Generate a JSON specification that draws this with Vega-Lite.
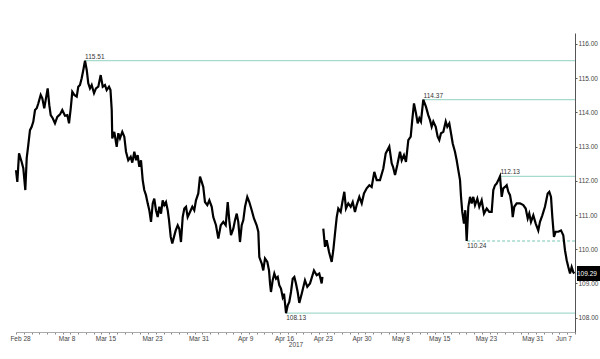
{
  "$schema": "https://vega.github.io/schema/vega-lite/v6.json",
  "width": 559,
  "height": 299,
  "autosize": {"type": "none"},
  "padding": {"left": 16, "top": 33, "right": 25, "bottom": 27},
  "background": "white",
  "config": {
    "view": {"stroke": null},
    "font": "Liberation Sans",
    "axis": {"grid": false, "labelFont": "Liberation Sans", "titleFont": "Liberation Sans"},
    "axisX": {"labelOverlap": false, "labelFlush": false}
  },
  "datasets": {
    "px": [
      {"d":0,"p":112.31},{"d":0.17,"p":111.97},{"d":0.39,"p":112.8},{"d":0.73,"p":112.55},{"d":0.94,"p":112.37},
      {"d":1.2,"p":111.73},{"d":1.38,"p":112.66},{"d":1.58,"p":113.04},{"d":1.8,"p":113.48},{"d":2.02,"p":113.58},
      {"d":2.23,"p":113.73},{"d":2.45,"p":114.07},{"d":2.67,"p":114.12},{"d":2.87,"p":114.26},{"d":3.18,"p":114.51},
      {"d":3.39,"p":114.41},{"d":3.64,"p":114.12},{"d":3.86,"p":114.41},{"d":4.08,"p":114.7},{"d":4.29,"p":114.21},
      {"d":4.47,"p":113.92},{"d":4.73,"p":113.83},{"d":5.02,"p":113.68},{"d":5.32,"p":113.87},{"d":5.67,"p":113.94},
      {"d":5.96,"p":114.07},{"d":6.31,"p":113.9},{"d":6.61,"p":113.92},{"d":6.83,"p":113.68},{"d":7.05,"p":114.12},
      {"d":7.25,"p":114.6},{"d":7.51,"p":114.51},{"d":7.82,"p":114.46},{"d":8.02,"p":114.75},{"d":8.24,"p":114.8},
      {"d":8.46,"p":115.0},{"d":8.67,"p":115.24},{"d":8.89,"p":115.51},{"d":9.11,"p":115.24},{"d":9.31,"p":114.85},
      {"d":9.53,"p":114.7},{"d":9.75,"p":114.8},{"d":10.05,"p":114.56},{"d":10.3,"p":114.7},{"d":10.6,"p":114.75},
      {"d":10.91,"p":115.09},{"d":11.17,"p":114.75},{"d":11.46,"p":114.8},{"d":11.68,"p":114.65},{"d":11.98,"p":114.75},
      {"d":12.17,"p":114.65},{"d":12.33,"p":114.07},{"d":12.4,"p":113.24},{"d":12.66,"p":113.43},{"d":12.97,"p":112.99},
      {"d":13.18,"p":113.39},{"d":13.39,"p":113.24},{"d":13.69,"p":113.43},{"d":13.95,"p":113.29},{"d":14.17,"p":112.85},
      {"d":14.46,"p":112.6},{"d":14.77,"p":112.7},{"d":14.98,"p":112.53},{"d":15.24,"p":112.85},{"d":15.46,"p":112.6},
      {"d":15.67,"p":112.75},{"d":15.88,"p":112.41},{"d":16.1,"p":112.6},{"d":16.32,"p":112.02},{"d":16.52,"p":111.73},
      {"d":16.74,"p":111.58},{"d":16.96,"p":111.34},{"d":17.17,"p":111.14},{"d":17.39,"p":110.8},{"d":17.61,"p":111.34},
      {"d":17.81,"p":111.48},{"d":18.03,"p":111.14},{"d":18.25,"p":110.94},{"d":18.46,"p":111.24},{"d":18.68,"p":111.04},
      {"d":18.89,"p":111.43},{"d":19.1,"p":111.29},{"d":19.32,"p":111.38},{"d":19.54,"p":111.14},{"d":19.71,"p":110.85},
      {"d":19.93,"p":110.36},{"d":20.13,"p":110.17},{"d":20.35,"p":110.36},{"d":20.57,"p":110.55},{"d":20.83,"p":110.7},
      {"d":21.03,"p":110.6},{"d":21.25,"p":110.21},{"d":21.47,"p":110.94},{"d":21.68,"p":111.19},{"d":21.9,"p":111.24},
      {"d":22.11,"p":110.94},{"d":22.41,"p":111.09},{"d":22.71,"p":111.24},{"d":22.96,"p":111.14},{"d":23.18,"p":111.43},
      {"d":23.48,"p":111.63},{"d":23.7,"p":112.12},{"d":23.92,"p":111.97},{"d":24.12,"p":111.82},{"d":24.34,"p":111.38},
      {"d":24.64,"p":111.29},{"d":24.9,"p":111.43},{"d":25.21,"p":111.24},{"d":25.41,"p":110.94},{"d":25.76,"p":110.7},
      {"d":26.06,"p":110.31},{"d":26.37,"p":110.7},{"d":26.7,"p":110.8},{"d":27.01,"p":110.7},{"d":27.27,"p":111.38},
      {"d":27.47,"p":110.85},{"d":27.69,"p":110.41},{"d":27.99,"p":110.6},{"d":28.21,"p":110.85},{"d":28.43,"p":111.04},
      {"d":28.63,"p":110.8},{"d":28.85,"p":110.21},{"d":29.07,"p":110.7},{"d":29.28,"p":110.85},{"d":29.5,"p":111.24},
      {"d":29.79,"p":111.53},{"d":30.05,"p":111.38},{"d":30.36,"p":111.14},{"d":30.65,"p":110.9},{"d":31.0,"p":110.7},
      {"d":31.21,"p":110.51},{"d":31.34,"p":109.77},{"d":31.65,"p":109.58},{"d":31.85,"p":109.38},{"d":32.07,"p":109.73},
      {"d":32.37,"p":109.63},{"d":32.59,"p":109.38},{"d":32.72,"p":109.0},{"d":32.84,"p":108.75},{"d":33.06,"p":109.09},
      {"d":33.27,"p":109.29},{"d":33.49,"p":109.14},{"d":33.71,"p":109.19},{"d":33.91,"p":108.95},{"d":34.13,"p":108.85},
      {"d":34.35,"p":108.6},{"d":34.52,"p":108.7},{"d":34.78,"p":108.13},{"d":35.0,"p":108.36},{"d":35.2,"p":108.46},
      {"d":35.42,"p":108.75},{"d":35.64,"p":109.14},{"d":35.85,"p":109.19},{"d":36.06,"p":109.0},{"d":36.28,"p":108.75},
      {"d":36.49,"p":108.43},{"d":36.8,"p":108.7},{"d":37.22,"p":109.09},{"d":37.52,"p":108.9},{"d":37.87,"p":109.0},
      {"d":38.38,"p":109.38},{"d":38.73,"p":109.24},{"d":39.06,"p":109.29},{"d":39.37,"p":109.0},{"d":39.47,"p":109.19},
      {"d":39.52,"p":null},
      {"d":39.58,"p":110.6},{"d":39.8,"p":110.07},{"d":40.02,"p":110.26},{"d":40.32,"p":109.92},{"d":40.66,"p":109.63},
      {"d":40.87,"p":109.97},{"d":41.09,"p":110.46},{"d":41.31,"p":110.94},{"d":41.51,"p":111.19},{"d":41.82,"p":111.09},
      {"d":42.08,"p":111.43},{"d":42.29,"p":111.68},{"d":42.5,"p":111.19},{"d":42.8,"p":111.34},{"d":43.11,"p":111.24},
      {"d":43.37,"p":111.38},{"d":43.66,"p":111.09},{"d":43.88,"p":111.29},{"d":44.22,"p":111.53},{"d":44.53,"p":111.34},
      {"d":44.82,"p":111.63},{"d":45.17,"p":111.78},{"d":45.51,"p":111.87},{"d":45.81,"p":111.82},{"d":46.15,"p":112.26},
      {"d":46.46,"p":112.02},{"d":46.88,"p":112.02},{"d":47.31,"p":112.36},{"d":47.62,"p":112.8},{"d":48.08,"p":113.0},
      {"d":48.39,"p":112.51},{"d":48.56,"p":112.41},{"d":48.82,"p":112.17},{"d":49.11,"p":112.46},{"d":49.46,"p":112.85},
      {"d":49.68,"p":112.6},{"d":49.97,"p":112.75},{"d":50.23,"p":112.55},{"d":50.53,"p":113.19},{"d":50.84,"p":113.29},
      {"d":51.04,"p":113.78},{"d":51.26,"p":114.26},{"d":51.52,"p":113.97},{"d":51.74,"p":113.68},{"d":51.95,"p":113.83},
      {"d":52.16,"p":113.73},{"d":52.46,"p":114.37},{"d":52.81,"p":114.16},{"d":53.1,"p":113.92},{"d":53.32,"p":113.78},
      {"d":53.54,"p":113.58},{"d":53.75,"p":113.73},{"d":54.06,"p":113.58},{"d":54.31,"p":113.29},{"d":54.52,"p":113.19},
      {"d":54.74,"p":113.39},{"d":55.04,"p":113.43},{"d":55.35,"p":113.73},{"d":55.55,"p":113.58},{"d":55.81,"p":113.68},
      {"d":56.03,"p":113.39},{"d":56.25,"p":113.09},{"d":56.54,"p":112.85},{"d":56.76,"p":112.6},{"d":56.97,"p":112.31},
      {"d":57.19,"p":112.02},{"d":57.32,"p":111.53},{"d":57.48,"p":111.09},{"d":57.7,"p":110.75},{"d":57.87,"p":111.14},
      {"d":58.05,"p":110.24},{"d":58.26,"p":111.24},{"d":58.48,"p":111.53},{"d":58.69,"p":111.34},{"d":58.9,"p":111.53},
      {"d":59.12,"p":111.29},{"d":59.42,"p":111.48},{"d":59.67,"p":111.24},{"d":59.98,"p":111.43},{"d":60.28,"p":111.04},
      {"d":60.63,"p":111.19},{"d":60.96,"p":111.09},{"d":61.27,"p":111.09},{"d":61.48,"p":111.73},{"d":61.7,"p":111.87},
      {"d":61.91,"p":111.92},{"d":62.12,"p":112.02},{"d":62.34,"p":112.13},{"d":62.56,"p":111.53},{"d":62.76,"p":111.78},
      {"d":62.98,"p":111.82},{"d":63.2,"p":111.87},{"d":63.41,"p":111.68},{"d":63.63,"p":111.58},{"d":63.85,"p":111.29},
      {"d":63.98,"p":110.94},{"d":64.18,"p":111.24},{"d":64.49,"p":111.34},{"d":64.92,"p":111.34},{"d":65.34,"p":111.29},
      {"d":65.65,"p":111.19},{"d":65.91,"p":110.9},{"d":66.11,"p":111.04},{"d":66.33,"p":110.8},{"d":66.63,"p":110.99},
      {"d":66.94,"p":110.75},{"d":67.27,"p":110.55},{"d":67.49,"p":110.8},{"d":67.79,"p":110.99},{"d":68.13,"p":111.24},
      {"d":68.48,"p":111.63},{"d":68.69,"p":111.68},{"d":68.91,"p":111.53},{"d":69.08,"p":110.94},{"d":69.29,"p":110.36},
      {"d":69.51,"p":110.51},{"d":69.85,"p":110.51},{"d":70.2,"p":110.55},{"d":70.49,"p":110.41},{"d":70.71,"p":109.97},
      {"d":70.93,"p":109.68},{"d":71.14,"p":109.48},{"d":71.36,"p":109.29},{"d":71.57,"p":109.48},{"d":71.78,"p":109.33},
      {"d":71.91,"p":109.29}
    ],
    "lv": [
      {"p":115.51,"d":8.9,"d2":72,"k":"solid","pos":"above"},
      {"p":114.37,"d":52.5,"d2":72,"k":"solid","pos":"above"},
      {"p":112.13,"d":62.4,"d2":72,"k":"solid","pos":"above"},
      {"p":110.24,"d":58.1,"d2":72,"k":"dashed","pos":"below"},
      {"p":108.13,"d":34.8,"d2":72,"k":"solid","pos":"below"}
    ],
    "last": [{"d":72,"p":109.29}]
  },
  "encoding": {
    "x": {"field": "d", "type": "quantitative", "scale": {"domain": [0, 72], "nice": false, "zero": false},
      "axis": {
        "values": [0,1,2,3,4,5,6,7,8,9,10,11,12,13,14,15,16,17,18,19,20,21,22,23,24,25,26,27,28,29,30,31,32,33,34,35,36,37,38,39,40,41,42,43,44,45,46,47,48,49,50,51,52,53,54,55,56,57,58,59,60,61,62,63,64,65,66,67,68,69,70,71,72],
        "labelExpr": "datum.value == 0 ? 'Feb 28' : datum.value == 6 ? 'Mar 8' : datum.value == 11 ? 'Mar 15' : datum.value == 17 ? 'Mar 23' : datum.value == 23 ? 'Mar 31' : datum.value == 29 ? 'Apr 9' : datum.value == 34 ? 'Apr 16' : datum.value == 39 ? 'Apr 23' : datum.value == 44 ? 'Apr 30' : datum.value == 49 ? 'May 8' : datum.value == 54 ? 'May 15' : datum.value == 60 ? 'May 23' : datum.value == 66 ? 'May 31' : datum.value == 70 ? 'Jun 7' : ''",
        "labelOverlap": false,
        "labelFlush": false,
        "labelFontSize": 6.5, "labelColor": "#444", "labelOffset": 4, "labelPadding": 1,
        "tickSize": 2, "tickColor": "#888", "domainColor": "#aaa",
        "title": "2017", "titleFontSize": 6.5, "titleFontWeight": "normal", "titleColor": "#444", "titlePadding": 0
      }
    },
    "y": {"field": "p", "type": "quantitative", "scale": {"domain": [107.58, 116.32], "nice": false, "zero": false},
      "axis": {
        "orient": "right", "values": [108,109,110,111,112,113,114,115,116], "format": ".2f",
        "labelFontSize": 6.5, "labelColor": "#444", "labelPadding": 1, "tickSize": 2, "tickColor": "#555",
        "domainColor": "#555", "title": null
      }
    }
  },
  "layer": [
    {
      "data": {"name": "lv"},
      "mark": {"type": "rule", "strokeWidth": 1.3, "color": "#a6dacd"},
      "encoding": {
        "x2": {"field": "d2"},
        "strokeDash": {"field": "k", "type": "nominal", "scale": {"domain": ["solid", "dashed"], "range": [[1, 0], [3, 2]]}, "legend": null}
      }
    },
    {
      "data": {"name": "px"},
      "mark": {"type": "line", "color": "#000", "strokeWidth": 2.2, "strokeJoin": "miter"},
      "encoding": {}
    },
    {
      "data": {"name": "lv"},
      "transform": [{"filter": "datum.pos == 'above'"}],
      "mark": {"type": "text", "align": "left", "baseline": "bottom", "dy": -1, "fontSize": 6.5, "color": "#333"},
      "encoding": {
        "text": {"field": "p", "type": "quantitative", "format": ".2f"}
      }
    },
    {
      "data": {"name": "lv"},
      "transform": [{"filter": "datum.pos == 'below'"}],
      "mark": {"type": "text", "align": "left", "baseline": "top", "dy": 2, "fontSize": 6.5, "color": "#333"},
      "encoding": {
        "text": {"field": "p", "type": "quantitative", "format": ".2f"}
      }
    },
    {
      "data": {"name": "last"},
      "mark": {"type": "point", "shape": "M0.2,-0.75H4V0.75H0.2Z", "size": 400, "filled": true, "color": "#000", "opacity": 1},
      "encoding": {}
    },
    {
      "data": {"name": "last"},
      "mark": {"type": "text", "align": "left", "baseline": "middle", "dx": 2, "fontSize": 6.5, "color": "#fff"},
      "encoding": {
        "text": {"field": "p", "type": "quantitative", "format": ".2f"}
      }
    }
  ]
}
